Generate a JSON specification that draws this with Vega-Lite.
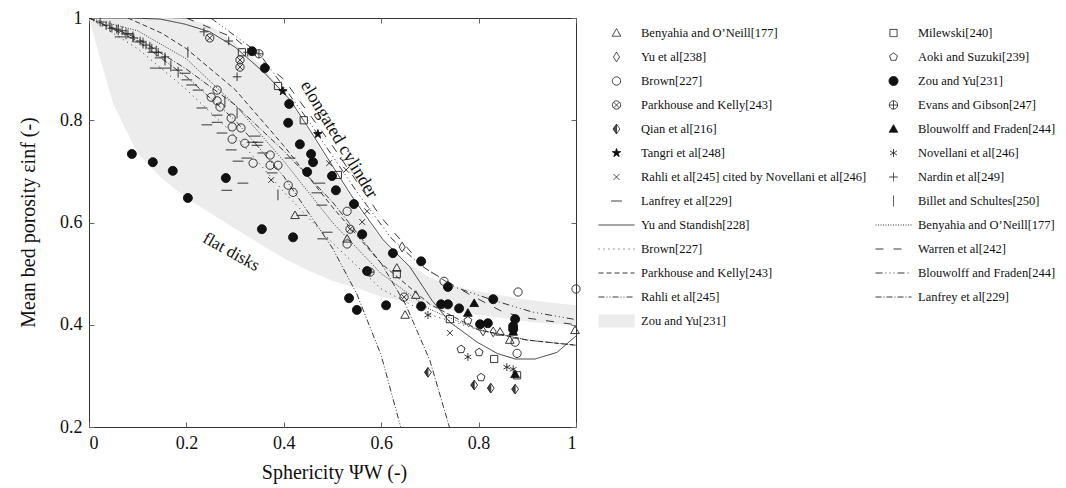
{
  "$schema": "https://vega.github.io/schema/vega-lite/v6.json",
  "width": 487,
  "height": 409,
  "autosize": {"type": "none"},
  "padding": {"left": 89, "top": 18, "right": 490, "bottom": 61},
  "background": "white",
  "datasets": {
    "pts": [
      {"s": "Benyahia and O’Neill[177]", "x": 0.423, "y": 0.614},
      {"s": "Benyahia and O’Neill[177]", "x": 0.530, "y": 0.568},
      {"s": "Benyahia and O’Neill[177]", "x": 0.632, "y": 0.511},
      {"s": "Benyahia and O’Neill[177]", "x": 0.671, "y": 0.458},
      {"s": "Benyahia and O’Neill[177]", "x": 0.649, "y": 0.419},
      {"s": "Benyahia and O’Neill[177]", "x": 0.844, "y": 0.386},
      {"s": "Benyahia and O’Neill[177]", "x": 0.864, "y": 0.370},
      {"s": "Benyahia and O’Neill[177]", "x": 0.998, "y": 0.389},
      {"s": "Milewski[240]", "x": 0.314, "y": 0.933},
      {"s": "Milewski[240]", "x": 0.388, "y": 0.867},
      {"s": "Milewski[240]", "x": 0.441, "y": 0.800},
      {"s": "Milewski[240]", "x": 0.511, "y": 0.693},
      {"s": "Milewski[240]", "x": 0.632, "y": 0.499},
      {"s": "Milewski[240]", "x": 0.741, "y": 0.411},
      {"s": "Milewski[240]", "x": 0.832, "y": 0.333},
      {"s": "Milewski[240]", "x": 0.879, "y": 0.301},
      {"s": "Yu et al[238]", "x": 0.643, "y": 0.552},
      {"s": "Yu et al[238]", "x": 0.830, "y": 0.386},
      {"s": "Yu et al[238]", "x": 0.809, "y": 0.388},
      {"s": "Aoki and Suzuki[239]", "x": 0.778, "y": 0.408},
      {"s": "Aoki and Suzuki[239]", "x": 0.764, "y": 0.352},
      {"s": "Aoki and Suzuki[239]", "x": 0.801, "y": 0.346},
      {"s": "Aoki and Suzuki[239]", "x": 0.805, "y": 0.297},
      {"s": "Brown[227]", "x": 0.263, "y": 0.859},
      {"s": "Brown[227]", "x": 0.251, "y": 0.845},
      {"s": "Brown[227]", "x": 0.263, "y": 0.838},
      {"s": "Brown[227]", "x": 0.269, "y": 0.826},
      {"s": "Brown[227]", "x": 0.292, "y": 0.804},
      {"s": "Brown[227]", "x": 0.294, "y": 0.787},
      {"s": "Brown[227]", "x": 0.312, "y": 0.785},
      {"s": "Brown[227]", "x": 0.294, "y": 0.763},
      {"s": "Brown[227]", "x": 0.320, "y": 0.755},
      {"s": "Brown[227]", "x": 0.337, "y": 0.716},
      {"s": "Brown[227]", "x": 0.372, "y": 0.732},
      {"s": "Brown[227]", "x": 0.372, "y": 0.712},
      {"s": "Brown[227]", "x": 0.388, "y": 0.712},
      {"s": "Brown[227]", "x": 0.409, "y": 0.673},
      {"s": "Brown[227]", "x": 0.419, "y": 0.659},
      {"s": "Brown[227]", "x": 0.530, "y": 0.622},
      {"s": "Brown[227]", "x": 0.530, "y": 0.558},
      {"s": "Brown[227]", "x": 0.729, "y": 0.485},
      {"s": "Brown[227]", "x": 0.881, "y": 0.464},
      {"s": "Brown[227]", "x": 0.875, "y": 0.366},
      {"s": "Brown[227]", "x": 0.879, "y": 0.344},
      {"s": "Brown[227]", "x": 1.0, "y": 0.470},
      {"s": "Zou and Yu[231]", "x": 0.088, "y": 0.734},
      {"s": "Zou and Yu[231]", "x": 0.131, "y": 0.718},
      {"s": "Zou and Yu[231]", "x": 0.172, "y": 0.701},
      {"s": "Zou and Yu[231]", "x": 0.203, "y": 0.648},
      {"s": "Zou and Yu[231]", "x": 0.281, "y": 0.687},
      {"s": "Zou and Yu[231]", "x": 0.355, "y": 0.587},
      {"s": "Zou and Yu[231]", "x": 0.419, "y": 0.571},
      {"s": "Zou and Yu[231]", "x": 0.335, "y": 0.935},
      {"s": "Zou and Yu[231]", "x": 0.361, "y": 0.902},
      {"s": "Zou and Yu[231]", "x": 0.411, "y": 0.832},
      {"s": "Zou and Yu[231]", "x": 0.409, "y": 0.795},
      {"s": "Zou and Yu[231]", "x": 0.433, "y": 0.753},
      {"s": "Zou and Yu[231]", "x": 0.456, "y": 0.734},
      {"s": "Zou and Yu[231]", "x": 0.460, "y": 0.718},
      {"s": "Zou and Yu[231]", "x": 0.448, "y": 0.699},
      {"s": "Zou and Yu[231]", "x": 0.499, "y": 0.691},
      {"s": "Zou and Yu[231]", "x": 0.507, "y": 0.663},
      {"s": "Zou and Yu[231]", "x": 0.544, "y": 0.636},
      {"s": "Zou and Yu[231]", "x": 0.561, "y": 0.577},
      {"s": "Zou and Yu[231]", "x": 0.624, "y": 0.540},
      {"s": "Zou and Yu[231]", "x": 0.571, "y": 0.505},
      {"s": "Zou and Yu[231]", "x": 0.682, "y": 0.524},
      {"s": "Zou and Yu[231]", "x": 0.534, "y": 0.452},
      {"s": "Zou and Yu[231]", "x": 0.550, "y": 0.429},
      {"s": "Zou and Yu[231]", "x": 0.610, "y": 0.438},
      {"s": "Zou and Yu[231]", "x": 0.737, "y": 0.474},
      {"s": "Zou and Yu[231]", "x": 0.830, "y": 0.450},
      {"s": "Zou and Yu[231]", "x": 0.682, "y": 0.436},
      {"s": "Zou and Yu[231]", "x": 0.723, "y": 0.440},
      {"s": "Zou and Yu[231]", "x": 0.737, "y": 0.440},
      {"s": "Zou and Yu[231]", "x": 0.760, "y": 0.432},
      {"s": "Zou and Yu[231]", "x": 0.803, "y": 0.401},
      {"s": "Zou and Yu[231]", "x": 0.819, "y": 0.403},
      {"s": "Zou and Yu[231]", "x": 0.875, "y": 0.411},
      {"s": "Zou and Yu[231]", "x": 0.871, "y": 0.397},
      {"s": "Zou and Yu[231]", "x": 0.871, "y": 0.391},
      {"s": "Parkhouse and Kelly[243]", "x": 0.248, "y": 0.961},
      {"s": "Parkhouse and Kelly[243]", "x": 0.310, "y": 0.918},
      {"s": "Parkhouse and Kelly[243]", "x": 0.310, "y": 0.904},
      {"s": "Parkhouse and Kelly[243]", "x": 0.536, "y": 0.587},
      {"s": "Parkhouse and Kelly[243]", "x": 0.647, "y": 0.454},
      {"s": "Evans and Gibson[247]", "x": 0.349, "y": 0.930},
      {"s": "Evans and Gibson[247]", "x": 0.577, "y": 0.503},
      {"s": "Qian et al[216]", "x": 0.696, "y": 0.307},
      {"s": "Qian et al[216]", "x": 0.791, "y": 0.282},
      {"s": "Qian et al[216]", "x": 0.825, "y": 0.276},
      {"s": "Qian et al[216]", "x": 0.875, "y": 0.274},
      {"s": "Blouwolff and Fraden[244]", "x": 0.791, "y": 0.442},
      {"s": "Blouwolff and Fraden[244]", "x": 0.778, "y": 0.423},
      {"s": "Blouwolff and Fraden[244]", "x": 0.875, "y": 0.303},
      {"s": "Blouwolff and Fraden[244]", "x": 0.871, "y": 0.386},
      {"s": "Tangri et al[248]", "x": 0.398, "y": 0.857},
      {"s": "Tangri et al[248]", "x": 0.470, "y": 0.773},
      {"s": "Novellani et al[246]", "x": 0.696, "y": 0.419},
      {"s": "Novellani et al[246]", "x": 0.778, "y": 0.337},
      {"s": "Novellani et al[246]", "x": 0.858, "y": 0.317},
      {"s": "Novellani et al[246]", "x": 0.871, "y": 0.313},
      {"s": "Rahli et al[245] cited by Novellani et al[246]", "x": 0.374, "y": 0.683},
      {"s": "Rahli et al[245] cited by Novellani et al[246]", "x": 0.493, "y": 0.716},
      {"s": "Rahli et al[245] cited by Novellani et al[246]", "x": 0.528, "y": 0.703},
      {"s": "Rahli et al[245] cited by Novellani et al[246]", "x": 0.571, "y": 0.622},
      {"s": "Rahli et al[245] cited by Novellani et al[246]", "x": 0.561, "y": 0.601},
      {"s": "Rahli et al[245] cited by Novellani et al[246]", "x": 0.741, "y": 0.384},
      {"s": "Nardin et al[249]", "x": 0.023, "y": 0.992},
      {"s": "Nardin et al[249]", "x": 0.035, "y": 0.986},
      {"s": "Nardin et al[249]", "x": 0.047, "y": 0.980},
      {"s": "Nardin et al[249]", "x": 0.057, "y": 0.978},
      {"s": "Nardin et al[249]", "x": 0.068, "y": 0.975},
      {"s": "Nardin et al[249]", "x": 0.080, "y": 0.969},
      {"s": "Nardin et al[249]", "x": 0.092, "y": 0.961},
      {"s": "Nardin et al[249]", "x": 0.105, "y": 0.955},
      {"s": "Nardin et al[249]", "x": 0.117, "y": 0.947},
      {"s": "Nardin et al[249]", "x": 0.129, "y": 0.941},
      {"s": "Nardin et al[249]", "x": 0.142, "y": 0.933},
      {"s": "Nardin et al[249]", "x": 0.156, "y": 0.924},
      {"s": "Nardin et al[249]", "x": 0.236, "y": 0.973},
      {"s": "Nardin et al[249]", "x": 0.287, "y": 0.955},
      {"s": "Nardin et al[249]", "x": 0.304, "y": 0.885},
      {"s": "Nardin et al[249]", "x": 0.326, "y": 0.933},
      {"s": "Lanfrey et al[229]", "x": 0.064, "y": 0.963},
      {"s": "Lanfrey et al[229]", "x": 0.080, "y": 0.969},
      {"s": "Lanfrey et al[229]", "x": 0.105, "y": 0.953},
      {"s": "Lanfrey et al[229]", "x": 0.131, "y": 0.933},
      {"s": "Lanfrey et al[229]", "x": 0.146, "y": 0.922},
      {"s": "Lanfrey et al[229]", "x": 0.136, "y": 0.902},
      {"s": "Lanfrey et al[229]", "x": 0.156, "y": 0.902},
      {"s": "Lanfrey et al[229]", "x": 0.181, "y": 0.898},
      {"s": "Lanfrey et al[229]", "x": 0.197, "y": 0.892},
      {"s": "Lanfrey et al[229]", "x": 0.201, "y": 0.879},
      {"s": "Lanfrey et al[229]", "x": 0.211, "y": 0.869},
      {"s": "Lanfrey et al[229]", "x": 0.224, "y": 0.859},
      {"s": "Lanfrey et al[229]", "x": 0.232, "y": 0.824},
      {"s": "Lanfrey et al[229]", "x": 0.263, "y": 0.810},
      {"s": "Lanfrey et al[229]", "x": 0.263, "y": 0.796},
      {"s": "Lanfrey et al[229]", "x": 0.242, "y": 0.791},
      {"s": "Lanfrey et al[229]", "x": 0.273, "y": 0.775},
      {"s": "Lanfrey et al[229]", "x": 0.341, "y": 0.769},
      {"s": "Lanfrey et al[229]", "x": 0.335, "y": 0.757},
      {"s": "Lanfrey et al[229]", "x": 0.347, "y": 0.757},
      {"s": "Lanfrey et al[229]", "x": 0.292, "y": 0.742},
      {"s": "Lanfrey et al[229]", "x": 0.306, "y": 0.720},
      {"s": "Lanfrey et al[229]", "x": 0.324, "y": 0.726},
      {"s": "Lanfrey et al[229]", "x": 0.316, "y": 0.677},
      {"s": "Lanfrey et al[229]", "x": 0.283, "y": 0.663},
      {"s": "Lanfrey et al[229]", "x": 0.345, "y": 0.751},
      {"s": "Lanfrey et al[229]", "x": 0.357, "y": 0.736},
      {"s": "Lanfrey et al[229]", "x": 0.413, "y": 0.726},
      {"s": "Lanfrey et al[229]", "x": 0.376, "y": 0.697},
      {"s": "Lanfrey et al[229]", "x": 0.474, "y": 0.677},
      {"s": "Lanfrey et al[229]", "x": 0.468, "y": 0.658},
      {"s": "Lanfrey et al[229]", "x": 0.478, "y": 0.634},
      {"s": "Lanfrey et al[229]", "x": 0.437, "y": 0.614},
      {"s": "Lanfrey et al[229]", "x": 0.489, "y": 0.581},
      {"s": "Lanfrey et al[229]", "x": 0.480, "y": 0.568},
      {"s": "Billet and Schultes[250]", "x": 0.043, "y": 0.984},
      {"s": "Billet and Schultes[250]", "x": 0.060, "y": 0.977},
      {"s": "Billet and Schultes[250]", "x": 0.076, "y": 0.969},
      {"s": "Billet and Schultes[250]", "x": 0.090, "y": 0.963},
      {"s": "Billet and Schultes[250]", "x": 0.111, "y": 0.951},
      {"s": "Billet and Schultes[250]", "x": 0.125, "y": 0.943},
      {"s": "Billet and Schultes[250]", "x": 0.138, "y": 0.935},
      {"s": "Billet and Schultes[250]", "x": 0.156, "y": 0.918},
      {"s": "Billet and Schultes[250]", "x": 0.168, "y": 0.906},
      {"s": "Billet and Schultes[250]", "x": 0.183, "y": 0.894},
      {"s": "Billet and Schultes[250]", "x": 0.203, "y": 0.933},
      {"s": "Billet and Schultes[250]", "x": 0.279, "y": 0.836},
      {"s": "Billet and Schultes[250]", "x": 0.304, "y": 0.814},
      {"s": "Billet and Schultes[250]", "x": 0.388, "y": 0.654}
    ],
    "lines": [
      {"s": "Yu and Standish[228]", "x": 0.0, "y": 1.0},
      {"s": "Yu and Standish[228]", "x": 0.084, "y": 1.0},
      {"s": "Yu and Standish[228]", "x": 0.146, "y": 0.998},
      {"s": "Yu and Standish[228]", "x": 0.197, "y": 0.988},
      {"s": "Yu and Standish[228]", "x": 0.248, "y": 0.973},
      {"s": "Yu and Standish[228]", "x": 0.300, "y": 0.943},
      {"s": "Yu and Standish[228]", "x": 0.361, "y": 0.892},
      {"s": "Yu and Standish[228]", "x": 0.413, "y": 0.840},
      {"s": "Yu and Standish[228]", "x": 0.460, "y": 0.771},
      {"s": "Yu and Standish[228]", "x": 0.505, "y": 0.703},
      {"s": "Yu and Standish[228]", "x": 0.542, "y": 0.648},
      {"s": "Yu and Standish[228]", "x": 0.604, "y": 0.566},
      {"s": "Yu and Standish[228]", "x": 0.659, "y": 0.513},
      {"s": "Yu and Standish[228]", "x": 0.704, "y": 0.448},
      {"s": "Yu and Standish[228]", "x": 0.741, "y": 0.405},
      {"s": "Yu and Standish[228]", "x": 0.797, "y": 0.366},
      {"s": "Yu and Standish[228]", "x": 0.838, "y": 0.344},
      {"s": "Yu and Standish[228]", "x": 0.875, "y": 0.333},
      {"s": "Yu and Standish[228]", "x": 0.916, "y": 0.333},
      {"s": "Yu and Standish[228]", "x": 0.961, "y": 0.346},
      {"s": "Yu and Standish[228]", "x": 1.0, "y": 0.378},
      {"s": "Benyahia and O’Neill[177] ", "x": 0.0, "y": 1.0},
      {"s": "Benyahia and O’Neill[177] ", "x": 0.1, "y": 0.975},
      {"s": "Benyahia and O’Neill[177] ", "x": 0.2, "y": 0.92},
      {"s": "Benyahia and O’Neill[177] ", "x": 0.3, "y": 0.83},
      {"s": "Benyahia and O’Neill[177] ", "x": 0.4, "y": 0.72},
      {"s": "Benyahia and O’Neill[177] ", "x": 0.5, "y": 0.6},
      {"s": "Benyahia and O’Neill[177] ", "x": 0.6, "y": 0.5},
      {"s": "Benyahia and O’Neill[177] ", "x": 0.7, "y": 0.43},
      {"s": "Benyahia and O’Neill[177] ", "x": 0.8, "y": 0.39},
      {"s": "Benyahia and O’Neill[177] ", "x": 0.9, "y": 0.37},
      {"s": "Benyahia and O’Neill[177] ", "x": 1.0, "y": 0.36},
      {"s": "Brown[227] ", "x": 0.0, "y": 1.0},
      {"s": "Brown[227] ", "x": 0.1, "y": 0.94},
      {"s": "Brown[227] ", "x": 0.2, "y": 0.86},
      {"s": "Brown[227] ", "x": 0.3, "y": 0.77},
      {"s": "Brown[227] ", "x": 0.4, "y": 0.66},
      {"s": "Brown[227] ", "x": 0.5, "y": 0.56},
      {"s": "Brown[227] ", "x": 0.6, "y": 0.47},
      {"s": "Brown[227] ", "x": 0.7, "y": 0.42},
      {"s": "Brown[227] ", "x": 0.8, "y": 0.39},
      {"s": "Brown[227] ", "x": 0.9, "y": 0.37},
      {"s": "Brown[227] ", "x": 1.0, "y": 0.36},
      {"s": "Warren et al[242]", "x": 0.2, "y": 1.0},
      {"s": "Warren et al[242]", "x": 0.3, "y": 0.96},
      {"s": "Warren et al[242]", "x": 0.4, "y": 0.88},
      {"s": "Warren et al[242]", "x": 0.5, "y": 0.75},
      {"s": "Warren et al[242]", "x": 0.6, "y": 0.61},
      {"s": "Warren et al[242]", "x": 0.69, "y": 0.51},
      {"s": "Warren et al[242]", "x": 0.78, "y": 0.46},
      {"s": "Warren et al[242]", "x": 0.85, "y": 0.425},
      {"s": "Warren et al[242]", "x": 0.9, "y": 0.413},
      {"s": "Warren et al[242]", "x": 1.0, "y": 0.40},
      {"s": "Parkhouse and Kelly[243] ", "x": 0.08, "y": 1.0},
      {"s": "Parkhouse and Kelly[243] ", "x": 0.15, "y": 0.97},
      {"s": "Parkhouse and Kelly[243] ", "x": 0.2, "y": 0.94},
      {"s": "Parkhouse and Kelly[243] ", "x": 0.3, "y": 0.86},
      {"s": "Parkhouse and Kelly[243] ", "x": 0.4, "y": 0.75},
      {"s": "Parkhouse and Kelly[243] ", "x": 0.5, "y": 0.63},
      {"s": "Parkhouse and Kelly[243] ", "x": 0.6, "y": 0.52},
      {"s": "Parkhouse and Kelly[243] ", "x": 0.7, "y": 0.44},
      {"s": "Parkhouse and Kelly[243] ", "x": 0.8, "y": 0.39},
      {"s": "Parkhouse and Kelly[243] ", "x": 0.9, "y": 0.37},
      {"s": "Parkhouse and Kelly[243] ", "x": 1.0, "y": 0.36},
      {"s": "Blouwolff and Fraden[244] ", "x": 0.25, "y": 1.0},
      {"s": "Blouwolff and Fraden[244] ", "x": 0.35, "y": 0.93},
      {"s": "Blouwolff and Fraden[244] ", "x": 0.45, "y": 0.8},
      {"s": "Blouwolff and Fraden[244] ", "x": 0.55, "y": 0.66},
      {"s": "Blouwolff and Fraden[244] ", "x": 0.62, "y": 0.57},
      {"s": "Blouwolff and Fraden[244] ", "x": 0.68, "y": 0.517},
      {"s": "Blouwolff and Fraden[244] ", "x": 0.75, "y": 0.474},
      {"s": "Blouwolff and Fraden[244] ", "x": 0.83, "y": 0.448},
      {"s": "Blouwolff and Fraden[244] ", "x": 0.91, "y": 0.425},
      {"s": "Blouwolff and Fraden[244] ", "x": 1.0, "y": 0.41},
      {"s": "Rahli et al[245]", "x": 0.0, "y": 1.0},
      {"s": "Rahli et al[245]", "x": 0.1, "y": 0.955},
      {"s": "Rahli et al[245]", "x": 0.2, "y": 0.885},
      {"s": "Rahli et al[245]", "x": 0.3, "y": 0.8},
      {"s": "Rahli et al[245]", "x": 0.4, "y": 0.69},
      {"s": "Rahli et al[245]", "x": 0.5, "y": 0.55},
      {"s": "Rahli et al[245]", "x": 0.55, "y": 0.46},
      {"s": "Rahli et al[245]", "x": 0.6, "y": 0.34},
      {"s": "Rahli et al[245]", "x": 0.64, "y": 0.2},
      {"s": "Lanfrey et al[229] ", "x": 0.0, "y": 1.0},
      {"s": "Lanfrey et al[229] ", "x": 0.1, "y": 0.96},
      {"s": "Lanfrey et al[229] ", "x": 0.2, "y": 0.9},
      {"s": "Lanfrey et al[229] ", "x": 0.3, "y": 0.83},
      {"s": "Lanfrey et al[229] ", "x": 0.4, "y": 0.74},
      {"s": "Lanfrey et al[229] ", "x": 0.5, "y": 0.64},
      {"s": "Lanfrey et al[229] ", "x": 0.6, "y": 0.52},
      {"s": "Lanfrey et al[229] ", "x": 0.65, "y": 0.44},
      {"s": "Lanfrey et al[229] ", "x": 0.7, "y": 0.33},
      {"s": "Lanfrey et al[229] ", "x": 0.74, "y": 0.2}
    ],
    "band": [
      {"s": "Zou and Yu[231] ", "x": 0.0, "lo": 1.0, "hi": 1.0},
      {"s": "Zou and Yu[231] ", "x": 0.02, "lo": 0.93, "hi": 1.0},
      {"s": "Zou and Yu[231] ", "x": 0.05, "lo": 0.832, "hi": 1.0},
      {"s": "Zou and Yu[231] ", "x": 0.1, "lo": 0.735, "hi": 1.0},
      {"s": "Zou and Yu[231] ", "x": 0.15, "lo": 0.686, "hi": 1.0},
      {"s": "Zou and Yu[231] ", "x": 0.2, "lo": 0.648, "hi": 0.999},
      {"s": "Zou and Yu[231] ", "x": 0.25, "lo": 0.618, "hi": 0.985},
      {"s": "Zou and Yu[231] ", "x": 0.3, "lo": 0.588, "hi": 0.95},
      {"s": "Zou and Yu[231] ", "x": 0.35, "lo": 0.559, "hi": 0.911},
      {"s": "Zou and Yu[231] ", "x": 0.4, "lo": 0.53, "hi": 0.856},
      {"s": "Zou and Yu[231] ", "x": 0.45, "lo": 0.506, "hi": 0.782},
      {"s": "Zou and Yu[231] ", "x": 0.5, "lo": 0.486, "hi": 0.706},
      {"s": "Zou and Yu[231] ", "x": 0.55, "lo": 0.472, "hi": 0.63},
      {"s": "Zou and Yu[231] ", "x": 0.6, "lo": 0.455, "hi": 0.568},
      {"s": "Zou and Yu[231] ", "x": 0.65, "lo": 0.445, "hi": 0.523},
      {"s": "Zou and Yu[231] ", "x": 0.7, "lo": 0.435, "hi": 0.492},
      {"s": "Zou and Yu[231] ", "x": 0.75, "lo": 0.427, "hi": 0.476},
      {"s": "Zou and Yu[231] ", "x": 0.8, "lo": 0.419, "hi": 0.465},
      {"s": "Zou and Yu[231] ", "x": 0.85, "lo": 0.413, "hi": 0.457},
      {"s": "Zou and Yu[231] ", "x": 0.9, "lo": 0.406, "hi": 0.449},
      {"s": "Zou and Yu[231] ", "x": 0.95, "lo": 0.402, "hi": 0.443},
      {"s": "Zou and Yu[231] ", "x": 1.0, "lo": 0.399, "hi": 0.438}
    ],
    "labA": [{"t": "elongated cylinder", "x": 0.513, "y": 0.762}],
    "labB": [{"t": "flat disks", "x": 0.292, "y": 0.542}]
  },
  "layer": [
    {
      "data": {"name": "band"},
      "mark": {"type": "area"},
      "encoding": {
        "x": {"field": "x", "type": "quantitative", "scale": {"domain": [0, 1], "nice": false, "zero": false},
          "axis": {"orient": "bottom", "values": [0, 0.2, 0.4, 0.6, 0.8, 1], "format": "~g", "tickSize": -5, "labelPadding": 12, "labelFontSize": 18, "title": "Sphericity ΨW (-)", "titleFontSize": 20, "titleX": 245, "titleY": 45, "titleBaseline": "middle"}},
        "y": {"field": "hi", "type": "quantitative", "scale": {"domain": [0.2, 1], "nice": false, "zero": false},
          "axis": {"orient": "left", "values": [0.2, 0.4, 0.6, 0.8, 1], "format": "~g", "tickSize": -5, "labelPadding": 12, "labelFontSize": 18, "title": "Mean bed porosity εinf (-)", "titleFontSize": 20, "titleX": -61, "titleY": 204, "titleBaseline": "middle"}},
        "y2": {"field": "lo"},
        "fill": {"field": "s", "type": "nominal", "title": null,
          "scale": {"domain": ["Benyahia and O’Neill[177]","Yu et al[238]","Brown[227]","Parkhouse and Kelly[243]","Qian et al[216]","Tangri et al[248]","Rahli et al[245] cited by Novellani et al[246]","Lanfrey et al[229]","Yu and Standish[228]","Brown[227] ","Parkhouse and Kelly[243] ","Rahli et al[245]","Zou and Yu[231] ","Milewski[240]","Aoki and Suzuki[239]","Zou and Yu[231]","Evans and Gibson[247]","Blouwolff and Fraden[244]","Novellani et al[246]","Nardin et al[249]","Billet and Schultes[250]","Benyahia and O’Neill[177] ","Warren et al[242]","Blouwolff and Fraden[244] ","Lanfrey et al[229] "],
          "range": ["transparent","transparent","transparent","transparent","transparent","#111","transparent","transparent","transparent","transparent","transparent","transparent","#ececec","transparent","transparent","#111","transparent","#111","transparent","transparent","transparent","transparent","transparent","transparent","transparent"]}},
        "stroke": {"field": "s", "type": "nominal", "title": null,
          "scale": {"domain": ["Benyahia and O’Neill[177]","Yu et al[238]","Brown[227]","Parkhouse and Kelly[243]","Qian et al[216]","Tangri et al[248]","Rahli et al[245] cited by Novellani et al[246]","Lanfrey et al[229]","Yu and Standish[228]","Brown[227] ","Parkhouse and Kelly[243] ","Rahli et al[245]","Zou and Yu[231] ","Milewski[240]","Aoki and Suzuki[239]","Zou and Yu[231]","Evans and Gibson[247]","Blouwolff and Fraden[244]","Novellani et al[246]","Nardin et al[249]","Billet and Schultes[250]","Benyahia and O’Neill[177] ","Warren et al[242]","Blouwolff and Fraden[244] ","Lanfrey et al[229] "],
          "range": ["#222","#222","#222","#222","#222","#111","#222","#222","#222","#222","#222","#222","transparent","#222","#222","#111","#222","#111","#222","#222","#222","#222","#222","#222","#222"]}}
      }
    },
    {
      "data": {"name": "lines"},
      "mark": {"type": "line", "strokeWidth": 0.9, "clip": true},
      "encoding": {
        "x": {"field": "x", "type": "quantitative", "scale": {"domain": [0, 1], "nice": false, "zero": false}, "axis": null},
        "y": {"field": "y", "type": "quantitative", "scale": {"domain": [0.2, 1], "nice": false, "zero": false}, "axis": null},
        "stroke": {"field": "s", "type": "nominal", "title": null,
          "scale": {"domain": ["Benyahia and O’Neill[177]","Yu et al[238]","Brown[227]","Parkhouse and Kelly[243]","Qian et al[216]","Tangri et al[248]","Rahli et al[245] cited by Novellani et al[246]","Lanfrey et al[229]","Yu and Standish[228]","Brown[227] ","Parkhouse and Kelly[243] ","Rahli et al[245]","Zou and Yu[231] ","Milewski[240]","Aoki and Suzuki[239]","Zou and Yu[231]","Evans and Gibson[247]","Blouwolff and Fraden[244]","Novellani et al[246]","Nardin et al[249]","Billet and Schultes[250]","Benyahia and O’Neill[177] ","Warren et al[242]","Blouwolff and Fraden[244] ","Lanfrey et al[229] "],
          "range": ["#222","#222","#222","#222","#222","#111","#222","#222","#222","#222","#222","#222","transparent","#222","#222","#111","#222","#111","#222","#222","#222","#222","#222","#222","#222"]}},
        "strokeDash": {"field": "s", "type": "nominal", "title": null,
          "scale": {"domain": ["Benyahia and O’Neill[177]","Yu et al[238]","Brown[227]","Parkhouse and Kelly[243]","Qian et al[216]","Tangri et al[248]","Rahli et al[245] cited by Novellani et al[246]","Lanfrey et al[229]","Yu and Standish[228]","Brown[227] ","Parkhouse and Kelly[243] ","Rahli et al[245]","Zou and Yu[231] ","Milewski[240]","Aoki and Suzuki[239]","Zou and Yu[231]","Evans and Gibson[247]","Blouwolff and Fraden[244]","Novellani et al[246]","Nardin et al[249]","Billet and Schultes[250]","Benyahia and O’Neill[177] ","Warren et al[242]","Blouwolff and Fraden[244] ","Lanfrey et al[229] "],
          "range": [[1,0],[1,0],[1,0],[1,0],[1,0],[1,0],[1,0],[1,0],[1,0],[1,4],[5,3],[6,2,1,2,1,2],[1,0],[1,0],[1,0],[1,0],[1,0],[1,0],[1,0],[1,0],[1,0],[1,1.5],[8,10],[7,3,1,3,1,3,1,3],[6,2,1,2]]}}
      }
    },
    {
      "data": {"name": "pts"},
      "mark": {"type": "point", "size": 1296, "strokeWidth": 0.9, "opacity": 1, "filled": true},
      "encoding": {
        "x": {"field": "x", "type": "quantitative", "scale": {"domain": [0, 1], "nice": false, "zero": false}, "axis": null},
        "y": {"field": "y", "type": "quantitative", "scale": {"domain": [0.2, 1], "nice": false, "zero": false}, "axis": null},
        "shape": {"field": "s", "type": "nominal", "title": null,
          "scale": {"domain": ["Benyahia and O’Neill[177]","Yu et al[238]","Brown[227]","Parkhouse and Kelly[243]","Qian et al[216]","Tangri et al[248]","Rahli et al[245] cited by Novellani et al[246]","Lanfrey et al[229]","Yu and Standish[228]","Brown[227] ","Parkhouse and Kelly[243] ","Rahli et al[245]","Zou and Yu[231] ","Milewski[240]","Aoki and Suzuki[239]","Zou and Yu[231]","Evans and Gibson[247]","Blouwolff and Fraden[244]","Novellani et al[246]","Nardin et al[249]","Billet and Schultes[250]","Benyahia and O’Neill[177] ","Warren et al[242]","Blouwolff and Fraden[244] ","Lanfrey et al[229] "],
          "range": [
            "M0,-0.24L0.24,0.18L-0.24,0.18Z",
            "M0,-0.27L0.17,0L0,0.27L-0.17,0Z",
            "M0.23,0A0.23 0.23 0 1 1 -0.23,0A0.23 0.23 0 1 1 0.23,0Z",
            "M0.23,0A0.23 0.23 0 1 1 -0.23,0A0.23 0.23 0 1 1 0.23,0ZM-0.163,-0.163L0.163,0.163M-0.163,0.163L0.163,-0.163",
            "M0,-0.27L0.19,0L0,0.27L-0.19,0ZM0,-0.27V0.27M-0.04,-0.21V0.21M-0.08,-0.16V0.16M-0.12,-0.1V0.1M-0.16,-0.04V0.04",
            "M0,-0.25L0.059,-0.081L0.238,-0.077L0.095,0.031L0.147,0.202L0,0.1L-0.147,0.202L-0.095,0.031L-0.238,-0.077L-0.059,-0.081Z",
            "M-0.16,-0.16L0.16,0.16M-0.16,0.16L0.16,-0.16",
            "M-0.3,0H0.3",
            "M-1,0H1","M-1,0H1","M-1,0H1","M-1,0H1",
            "M-1,-0.36H1V0.36H-1Z",
            "M-0.2,-0.2H0.2V0.2H-0.2Z",
            "M0,-0.23L0.219,-0.071L0.135,0.186L-0.135,0.186L-0.219,-0.071Z",
            "M0.25,0A0.25 0.25 0 1 1 -0.25,0A0.25 0.25 0 1 1 0.25,0Z",
            "M0.23,0A0.23 0.23 0 1 1 -0.23,0A0.23 0.23 0 1 1 0.23,0ZM-0.23,0H0.23M0,-0.23V0.23",
            "M0,-0.24L0.24,0.18L-0.24,0.18Z",
            "M0,-0.22V0.22M-0.19,-0.11L0.19,0.11M-0.19,0.11L0.19,-0.11",
            "M-0.24,0H0.24M0,-0.24V0.24",
            "M0,-0.3V0.3",
            "M-1,0H1","M-1,0H1","M-1,0H1","M-1,0H1"
          ]}},
        "fill": {"field": "s", "type": "nominal", "title": null,
          "scale": {"domain": ["Benyahia and O’Neill[177]","Yu et al[238]","Brown[227]","Parkhouse and Kelly[243]","Qian et al[216]","Tangri et al[248]","Rahli et al[245] cited by Novellani et al[246]","Lanfrey et al[229]","Yu and Standish[228]","Brown[227] ","Parkhouse and Kelly[243] ","Rahli et al[245]","Zou and Yu[231] ","Milewski[240]","Aoki and Suzuki[239]","Zou and Yu[231]","Evans and Gibson[247]","Blouwolff and Fraden[244]","Novellani et al[246]","Nardin et al[249]","Billet and Schultes[250]","Benyahia and O’Neill[177] ","Warren et al[242]","Blouwolff and Fraden[244] ","Lanfrey et al[229] "],
          "range": ["transparent","transparent","transparent","transparent","transparent","#111","transparent","transparent","transparent","transparent","transparent","transparent","#ececec","transparent","transparent","#111","transparent","#111","transparent","transparent","transparent","transparent","transparent","transparent","transparent"]}},
        "stroke": {"field": "s", "type": "nominal", "title": null,
          "scale": {"domain": ["Benyahia and O’Neill[177]","Yu et al[238]","Brown[227]","Parkhouse and Kelly[243]","Qian et al[216]","Tangri et al[248]","Rahli et al[245] cited by Novellani et al[246]","Lanfrey et al[229]","Yu and Standish[228]","Brown[227] ","Parkhouse and Kelly[243] ","Rahli et al[245]","Zou and Yu[231] ","Milewski[240]","Aoki and Suzuki[239]","Zou and Yu[231]","Evans and Gibson[247]","Blouwolff and Fraden[244]","Novellani et al[246]","Nardin et al[249]","Billet and Schultes[250]","Benyahia and O’Neill[177] ","Warren et al[242]","Blouwolff and Fraden[244] ","Lanfrey et al[229] "],
          "range": ["#222","#222","#222","#222","#222","#111","#222","#222","#222","#222","#222","#222","transparent","#222","#222","#111","#222","#111","#222","#222","#222","#222","#222","#222","#222"]}}
      }
    },
    {
      "data": {"name": "labA"},
      "mark": {"type": "text", "font": "Liberation Serif", "fontSize": 18, "angle": 59, "align": "center", "baseline": "middle", "color": "#111"},
      "encoding": {
        "x": {"field": "x", "type": "quantitative", "scale": {"domain": [0, 1], "nice": false, "zero": false},
          "axis": {"orient": "top", "values": [0, 0.2, 0.4, 0.6, 0.8, 1], "labels": false, "tickSize": -5, "title": null}},
        "y": {"field": "y", "type": "quantitative", "scale": {"domain": [0.2, 1], "nice": false, "zero": false},
          "axis": {"orient": "right", "values": [0.2, 0.4, 0.6, 0.8, 1], "labels": false, "tickSize": -5, "title": null}},
        "text": {"field": "t"}
      }
    },
    {
      "data": {"name": "labB"},
      "mark": {"type": "text", "font": "Liberation Serif", "fontSize": 17, "angle": 29, "align": "center", "baseline": "middle", "color": "#111"},
      "encoding": {
        "x": {"field": "x", "type": "quantitative", "scale": {"domain": [0, 1], "nice": false, "zero": false}, "axis": null},
        "y": {"field": "y", "type": "quantitative", "scale": {"domain": [0.2, 1], "nice": false, "zero": false}, "axis": null},
        "text": {"field": "t"}
      }
    }
  ],
  "resolve": {"axis": {"x": "independent", "y": "independent"}},
  "config": {
    "view": {"stroke": "#333", "strokeWidth": 1},
    "axis": {"grid": false, "domain": false, "labelFont": "Liberation Serif", "titleFont": "Liberation Serif", "labelColor": "#111", "titleColor": "#111", "tickColor": "#666", "titleFontWeight": "normal"},
    "legend": {"orient": "none", "legendX": 509, "legendY": 3, "columns": 2, "clipHeight": 24, "rowPadding": 0, "columnPadding": 8, "labelFont": "Liberation Serif", "labelFontSize": 12.5, "labelColor": "#111", "labelOffset": 6, "labelLimit": 400, "symbolSize": 1296, "symbolStrokeWidth": 0.9, "padding": 0}
  }
}
